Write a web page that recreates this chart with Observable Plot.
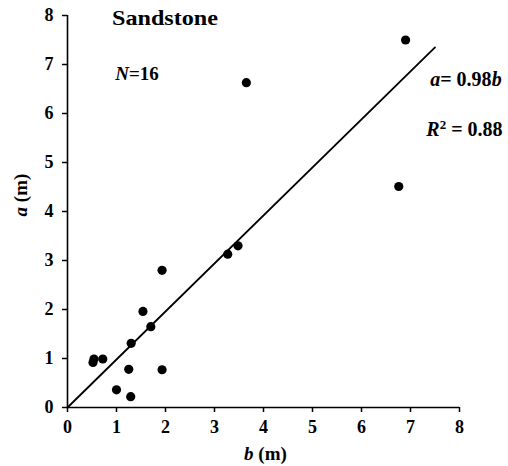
<!DOCTYPE html>
<html>
<head>
<meta charset="utf-8">
<script src="https://cdn.jsdelivr.net/npm/d3@7"></script>
<script src="https://cdn.jsdelivr.net/npm/@observablehq/plot@0.6"></script>
<style>
  html, body { margin: 0; padding: 0; background: #fff; }
  svg { display: block; }
</style>
</head>
<body>
<div id="chart"></div>
<script>
// b (m) values
const bVals = [0.52, 0.54, 0.72, 1.00, 1.25, 1.29, 1.30, 1.54, 1.70, 1.93, 1.93, 3.27, 3.48, 3.65, 6.90, 6.76];
// a (m) values
const aVals = [0.92, 0.99, 0.99, 0.36, 0.78, 0.22, 1.31, 1.96, 1.65, 2.80, 0.77, 3.13, 3.30, 6.63, 7.50, 4.51];
const slope = 0.98;
const fitRange = [0, 7.5];
const ticks = [0, 1, 2, 3, 4, 5, 6, 7, 8];
const title = "Sandstone";

const points = bVals.map((b, i) => ({b, a: aVals[i]}));
const fit = fitRange.map(b => ({b, a: slope * b}));

const font = "Liberation Serif, Times New Roman, serif";

const chart = Plot.plot({
  width: 508,
  height: 466,
  marginLeft: 67,
  marginRight: 49,
  marginTop: 15,
  marginBottom: 59,
  style: {fontFamily: font, fontSize: "18px", fontWeight: "bold", color: "black", background: "white"},
  x: {domain: [0, 8]},
  y: {domain: [0, 8]},
  marks: [
    Plot.axisX({ticks, tickSize: 5, tickPadding: 8, label: null, fontSize: 18, fontWeight: "bold", strokeWidth: 1.5}),
    Plot.axisY({ticks, tickSize: 5, tickPadding: 9, label: null, fontSize: 18, fontWeight: "bold", strokeWidth: 1.5}),
    Plot.ruleX([0], {strokeWidth: 1.6}),
    Plot.ruleY([0], {strokeWidth: 1.6}),
    Plot.line(fit, {x: "b", y: "a", stroke: "black", strokeWidth: 1.8}),
    Plot.dot(points, {x: "b", y: "a", r: 4.6, fill: "black", stroke: "none"})
  ]
});

document.getElementById("chart").appendChild(chart);

const sx = chart.scale("x"), sy = chart.scale("y");
const svg = d3.select(chart);
const g = svg.append("g")
  .attr("font-family", font)
  .attr("font-weight", "bold")
  .attr("fill", "black");

function rich(parts, x, y, opts = {}) {
  const t = g.append("text")
    .attr("x", x).attr("y", y)
    .attr("font-size", opts.size || 18)
    .attr("text-anchor", opts.anchor || "start");
  if (opts.rotate) t.attr("transform", `rotate(-90 ${x} ${y})`);
  if (opts.length) t.attr("textLength", opts.length).attr("lengthAdjust", "spacingAndGlyphs");
  let shifted = 0;
  for (const [s, it, sup] of parts) {
    const ts = t.append("tspan").text(s);
    if (it) ts.attr("font-style", "italic");
    if (sup) { ts.attr("font-size", "0.65em").attr("dy", -7); shifted = 7; }
    else if (shifted) { ts.attr("dy", shifted); shifted = 0; }
  }
  return t;
}

rich([[title]], sx.apply(2.0), sy.apply(7.79), {size: 21, anchor: "middle", length: 106});
rich([["N", true], ["=16"]], sx.apply(0.985), sy.apply(6.67), {size: 19});
rich([["a", true], ["= 0.98"], ["b", true]], sx.apply(8.87), sy.apply(6.56), {size: 20, anchor: "end"});
rich([["R", true], ["2", false, true], [" = 0.88"]], sx.apply(8.89), sy.apply(5.54), {size: 20, anchor: "end"});
rich([["b", true], [" (m)"]], sx.apply(4.05), 460, {size: 19, anchor: "middle"});
rich([["a", true], [" (m)"]], 27, 195, {size: 19, anchor: "middle", rotate: true});
</script>
</body>
</html>
